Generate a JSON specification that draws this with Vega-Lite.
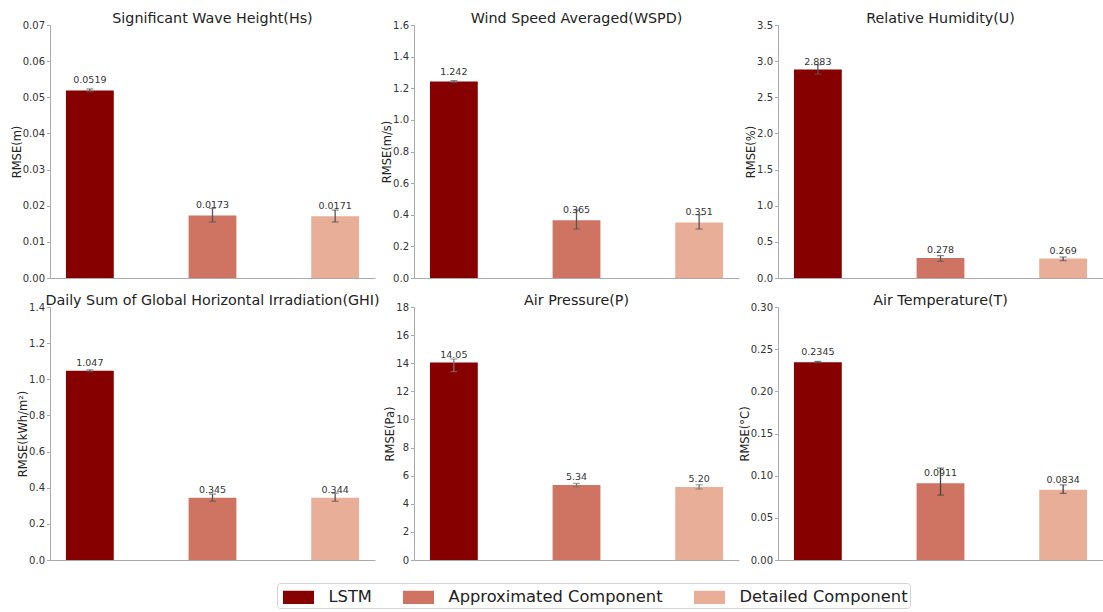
{
  "$schema": "https://vega.github.io/schema/vega-lite/v6.json",
  "padding": {"left": 11, "top": 11, "right": 0, "bottom": 0},
  "background": "white",
  "config": {
    "view": {"stroke": null},
    "font": "DejaVu Sans",
    "title": {"fontSize": 14.3, "fontWeight": "normal", "color": "#222", "offset": -6, "anchor": "middle", "font": "DejaVu Sans"},
    "axis": {"labelFont": "DejaVu Sans", "titleFont": "DejaVu Sans", "labelFontSize": 10, "titleFontSize": 11.5, "titleFontWeight": "normal", "labelColor": "#333", "titleColor": "#222", "domainColor": "#aaa", "tickColor": "#aaa", "tickSize": 3.5, "labelPadding": 2, "titlePadding": 0, "grid": false, "labelOverlap": false, "labelFlush": false, "tickCount": 30},
    "axisX": {"labels": false, "ticks": false, "title": null, "domainWidth": 1.2},
    "axisY": {"domainWidth": 1}
  },
  "datasets": {
    "bars": [
      {"panel": "Hs", "model": "LSTM", "value": 0.0519, "lo": 0.0515, "hi": 0.0523, "label": "0.0519"},
      {"panel": "Hs", "model": "Approximated Component", "value": 0.0173, "lo": 0.0155, "hi": 0.0193, "label": "0.0173"},
      {"panel": "Hs", "model": "Detailed Component", "value": 0.0171, "lo": 0.0155, "hi": 0.0188, "label": "0.0171"},
      {"panel": "WSPD", "model": "LSTM", "value": 1.242, "lo": 1.236, "hi": 1.248, "label": "1.242"},
      {"panel": "WSPD", "model": "Approximated Component", "value": 0.365, "lo": 0.31, "hi": 0.43, "label": "0.365"},
      {"panel": "WSPD", "model": "Detailed Component", "value": 0.351, "lo": 0.31, "hi": 0.40, "label": "0.351"},
      {"panel": "U", "model": "LSTM", "value": 2.883, "lo": 2.82, "hi": 2.95, "label": "2.883"},
      {"panel": "U", "model": "Approximated Component", "value": 0.278, "lo": 0.23, "hi": 0.31, "label": "0.278"},
      {"panel": "U", "model": "Detailed Component", "value": 0.269, "lo": 0.24, "hi": 0.29, "label": "0.269"},
      {"panel": "GHI", "model": "LSTM", "value": 1.047, "lo": 1.042, "hi": 1.052, "label": "1.047"},
      {"panel": "GHI", "model": "Approximated Component", "value": 0.345, "lo": 0.325, "hi": 0.365, "label": "0.345"},
      {"panel": "GHI", "model": "Detailed Component", "value": 0.344, "lo": 0.325, "hi": 0.37, "label": "0.344"},
      {"panel": "P", "model": "LSTM", "value": 14.05, "lo": 13.4, "hi": 14.3, "label": "14.05"},
      {"panel": "P", "model": "Approximated Component", "value": 5.34, "lo": 5.2, "hi": 5.45, "label": "5.34"},
      {"panel": "P", "model": "Detailed Component", "value": 5.20, "lo": 5.05, "hi": 5.35, "label": "5.20"},
      {"panel": "T", "model": "LSTM", "value": 0.2345, "lo": 0.2335, "hi": 0.2355, "label": "0.2345"},
      {"panel": "T", "model": "Approximated Component", "value": 0.0911, "lo": 0.077, "hi": 0.109, "label": "0.0911"},
      {"panel": "T", "model": "Detailed Component", "value": 0.0834, "lo": 0.079, "hi": 0.089, "label": "0.0834"}
    ]
  },
  "data": {"name": "bars"},
  "columns": 3,
  "bounds": "flush",
  "spacing": {"row": 29, "column": 39},
  "concat": [
    {
      "width": 325, "height": 253,
      "title": "Significant Wave Height(Hs)",
      "transform": [{"filter": "datum.panel === 'Hs'"}],
      "encoding": {"x": {"field": "model", "type": "nominal", "sort": ["LSTM", "Approximated Component", "Detailed Component"], "scale": {"paddingInner": 0.61, "paddingOuter": 0.13}}},
      "layer": [
        {"mark": {"type": "bar"}, "encoding": {
          "y": {"field": "value", "type": "quantitative", "scale": {"domain": [0, 0.07], "nice": false}, "axis": {"title": "RMSE(m)", "values": [0, 0.01, 0.02, 0.03, 0.04, 0.05, 0.06, 0.07], "format": ".2f"}},
          "color": {"field": "model", "type": "nominal", "sort": ["LSTM", "Approximated Component", "Detailed Component"], "scale": {"domain": ["LSTM", "Approximated Component", "Detailed Component"], "range": ["#870000", "#cf7462", "#e9ae97"]},
            "legend": {"title": null, "orient": "none", "legendX": 227, "legendY": 558, "direction": "horizontal", "symbolType": "M-1.3,-0.55H1.3V0.55H-1.3Z", "symbolSize": 569, "symbolStrokeWidth": 0, "symbolOffset": 7.5, "labelOffset": 18, "labelFontSize": 16.3, "labelFont": "DejaVu Sans", "labelColor": "#222", "labelLimit": 500, "columnPadding": 27, "padding": 2, "strokeColor": "#d5d5d5", "fillColor": "white", "cornerRadius": 3}}
        }},
        {"mark": {"type": "rule", "color": "#555", "strokeWidth": 1.3}, "encoding": {"y": {"field": "lo", "type": "quantitative", "title": "RMSE(m)"}, "y2": {"field": "hi"}}},
        {"mark": {"type": "tick", "orient": "horizontal", "size": 7, "thickness": 1.2, "color": "#555"}, "encoding": {"y": {"field": "lo", "type": "quantitative", "title": "RMSE(m)"}}},
        {"mark": {"type": "tick", "orient": "horizontal", "size": 7, "thickness": 1.2, "color": "#555"}, "encoding": {"y": {"field": "hi", "type": "quantitative", "title": "RMSE(m)"}}},
        {"mark": {"type": "text", "baseline": "bottom", "dy": -5, "fontSize": 9.5, "color": "#333"}, "encoding": {"y": {"field": "value", "type": "quantitative", "title": "RMSE(m)"}, "text": {"field": "label"}}}
      ]
    },
    {
      "width": 325, "height": 253,
      "title": "Wind Speed Averaged(WSPD)",
      "transform": [{"filter": "datum.panel === 'WSPD'"}],
      "encoding": {"x": {"field": "model", "type": "nominal", "sort": ["LSTM", "Approximated Component", "Detailed Component"], "scale": {"paddingInner": 0.61, "paddingOuter": 0.13}}},
      "layer": [
        {"mark": {"type": "bar"}, "encoding": {
          "y": {"field": "value", "type": "quantitative", "scale": {"domain": [0, 1.6], "nice": false}, "axis": {"title": "RMSE(m/s)", "values": [0, 0.2, 0.4, 0.6, 0.8, 1.0, 1.2, 1.4, 1.6], "format": ".1f"}},
          "color": {"field": "model", "type": "nominal", "sort": ["LSTM", "Approximated Component", "Detailed Component"], "scale": {"domain": ["LSTM", "Approximated Component", "Detailed Component"], "range": ["#870000", "#cf7462", "#e9ae97"]}}
        }},
        {"mark": {"type": "rule", "color": "#555", "strokeWidth": 1.3}, "encoding": {"y": {"field": "lo", "type": "quantitative", "title": "RMSE(m/s)"}, "y2": {"field": "hi"}}},
        {"mark": {"type": "tick", "orient": "horizontal", "size": 7, "thickness": 1.2, "color": "#555"}, "encoding": {"y": {"field": "lo", "type": "quantitative", "title": "RMSE(m/s)"}}},
        {"mark": {"type": "tick", "orient": "horizontal", "size": 7, "thickness": 1.2, "color": "#555"}, "encoding": {"y": {"field": "hi", "type": "quantitative", "title": "RMSE(m/s)"}}},
        {"mark": {"type": "text", "baseline": "bottom", "dy": -5, "fontSize": 9.5, "color": "#333"}, "encoding": {"y": {"field": "value", "type": "quantitative", "title": "RMSE(m/s)"}, "text": {"field": "label"}}}
      ]
    },
    {
      "width": 325, "height": 253,
      "title": "Relative Humidity(U)",
      "transform": [{"filter": "datum.panel === 'U'"}],
      "encoding": {"x": {"field": "model", "type": "nominal", "sort": ["LSTM", "Approximated Component", "Detailed Component"], "scale": {"paddingInner": 0.61, "paddingOuter": 0.13}}},
      "layer": [
        {"mark": {"type": "bar"}, "encoding": {
          "y": {"field": "value", "type": "quantitative", "scale": {"domain": [0, 3.5], "nice": false}, "axis": {"title": "RMSE(%)", "values": [0, 0.5, 1.0, 1.5, 2.0, 2.5, 3.0, 3.5], "format": ".1f"}},
          "color": {"field": "model", "type": "nominal", "sort": ["LSTM", "Approximated Component", "Detailed Component"], "scale": {"domain": ["LSTM", "Approximated Component", "Detailed Component"], "range": ["#870000", "#cf7462", "#e9ae97"]}}
        }},
        {"mark": {"type": "rule", "color": "#555", "strokeWidth": 1.3}, "encoding": {"y": {"field": "lo", "type": "quantitative", "title": "RMSE(%)"}, "y2": {"field": "hi"}}},
        {"mark": {"type": "tick", "orient": "horizontal", "size": 7, "thickness": 1.2, "color": "#555"}, "encoding": {"y": {"field": "lo", "type": "quantitative", "title": "RMSE(%)"}}},
        {"mark": {"type": "tick", "orient": "horizontal", "size": 7, "thickness": 1.2, "color": "#555"}, "encoding": {"y": {"field": "hi", "type": "quantitative", "title": "RMSE(%)"}}},
        {"mark": {"type": "text", "baseline": "bottom", "dy": -3, "fontSize": 9.5, "color": "#333"}, "encoding": {"y": {"field": "value", "type": "quantitative", "title": "RMSE(%)"}, "text": {"field": "label"}}}
      ]
    },
    {
      "width": 325, "height": 253,
      "title": "Daily Sum of Global Horizontal Irradiation(GHI)",
      "transform": [{"filter": "datum.panel === 'GHI'"}],
      "encoding": {"x": {"field": "model", "type": "nominal", "sort": ["LSTM", "Approximated Component", "Detailed Component"], "scale": {"paddingInner": 0.61, "paddingOuter": 0.13}}},
      "layer": [
        {"mark": {"type": "bar"}, "encoding": {
          "y": {"field": "value", "type": "quantitative", "scale": {"domain": [0, 1.4], "nice": false}, "axis": {"title": "RMSE(kWh/m²)", "values": [0, 0.2, 0.4, 0.6, 0.8, 1.0, 1.2, 1.4], "format": ".1f"}},
          "color": {"field": "model", "type": "nominal", "sort": ["LSTM", "Approximated Component", "Detailed Component"], "scale": {"domain": ["LSTM", "Approximated Component", "Detailed Component"], "range": ["#870000", "#cf7462", "#e9ae97"]}}
        }},
        {"mark": {"type": "rule", "color": "#555", "strokeWidth": 1.3}, "encoding": {"y": {"field": "lo", "type": "quantitative", "title": "RMSE(kWh/m²)"}, "y2": {"field": "hi"}}},
        {"mark": {"type": "tick", "orient": "horizontal", "size": 7, "thickness": 1.2, "color": "#555"}, "encoding": {"y": {"field": "lo", "type": "quantitative", "title": "RMSE(kWh/m²)"}}},
        {"mark": {"type": "tick", "orient": "horizontal", "size": 7, "thickness": 1.2, "color": "#555"}, "encoding": {"y": {"field": "hi", "type": "quantitative", "title": "RMSE(kWh/m²)"}}},
        {"mark": {"type": "text", "baseline": "bottom", "dy": -3, "fontSize": 9.5, "color": "#333"}, "encoding": {"y": {"field": "value", "type": "quantitative", "title": "RMSE(kWh/m²)"}, "text": {"field": "label"}}}
      ]
    },
    {
      "width": 325, "height": 253,
      "title": "Air Pressure(P)",
      "transform": [{"filter": "datum.panel === 'P'"}],
      "encoding": {"x": {"field": "model", "type": "nominal", "sort": ["LSTM", "Approximated Component", "Detailed Component"], "scale": {"paddingInner": 0.61, "paddingOuter": 0.13}}},
      "layer": [
        {"mark": {"type": "bar"}, "encoding": {
          "y": {"field": "value", "type": "quantitative", "scale": {"domain": [0, 18], "nice": false}, "axis": {"title": "RMSE(Pa)", "values": [0, 2, 4, 6, 8, 10, 12, 14, 16, 18], "format": "d"}},
          "color": {"field": "model", "type": "nominal", "sort": ["LSTM", "Approximated Component", "Detailed Component"], "scale": {"domain": ["LSTM", "Approximated Component", "Detailed Component"], "range": ["#870000", "#cf7462", "#e9ae97"]}}
        }},
        {"mark": {"type": "rule", "color": "#777", "strokeWidth": 1.3}, "encoding": {"y": {"field": "lo", "type": "quantitative", "title": "RMSE(Pa)"}, "y2": {"field": "hi"}}},
        {"mark": {"type": "tick", "orient": "horizontal", "size": 7, "thickness": 1.2, "color": "#777"}, "encoding": {"y": {"field": "lo", "type": "quantitative", "title": "RMSE(Pa)"}}},
        {"mark": {"type": "tick", "orient": "horizontal", "size": 7, "thickness": 1.2, "color": "#777"}, "encoding": {"y": {"field": "hi", "type": "quantitative", "title": "RMSE(Pa)"}}},
        {"mark": {"type": "text", "baseline": "bottom", "dy": -3, "fontSize": 9.5, "color": "#333"}, "encoding": {"y": {"field": "value", "type": "quantitative", "title": "RMSE(Pa)"}, "text": {"field": "label"}}}
      ]
    },
    {
      "width": 325, "height": 253,
      "title": "Air Temperature(T)",
      "transform": [{"filter": "datum.panel === 'T'"}],
      "encoding": {"x": {"field": "model", "type": "nominal", "sort": ["LSTM", "Approximated Component", "Detailed Component"], "scale": {"paddingInner": 0.61, "paddingOuter": 0.13}}},
      "layer": [
        {"mark": {"type": "bar"}, "encoding": {
          "y": {"field": "value", "type": "quantitative", "scale": {"domain": [0, 0.3], "nice": false}, "axis": {"title": "RMSE(°C)", "values": [0, 0.05, 0.1, 0.15, 0.2, 0.25, 0.3], "format": ".2f"}},
          "color": {"field": "model", "type": "nominal", "sort": ["LSTM", "Approximated Component", "Detailed Component"], "scale": {"domain": ["LSTM", "Approximated Component", "Detailed Component"], "range": ["#870000", "#cf7462", "#e9ae97"]}}
        }},
        {"mark": {"type": "rule", "color": "#444", "strokeWidth": 1.3}, "encoding": {"y": {"field": "lo", "type": "quantitative", "title": "RMSE(°C)"}, "y2": {"field": "hi"}}},
        {"mark": {"type": "tick", "orient": "horizontal", "size": 7, "thickness": 1.2, "color": "#444"}, "encoding": {"y": {"field": "lo", "type": "quantitative", "title": "RMSE(°C)"}}},
        {"mark": {"type": "tick", "orient": "horizontal", "size": 7, "thickness": 1.2, "color": "#444"}, "encoding": {"y": {"field": "hi", "type": "quantitative", "title": "RMSE(°C)"}}},
        {"mark": {"type": "text", "baseline": "bottom", "dy": -5, "fontSize": 9.5, "color": "#333"}, "encoding": {"y": {"field": "value", "type": "quantitative", "title": "RMSE(°C)"}, "text": {"field": "label"}}}
      ]
    }
  ]
}
